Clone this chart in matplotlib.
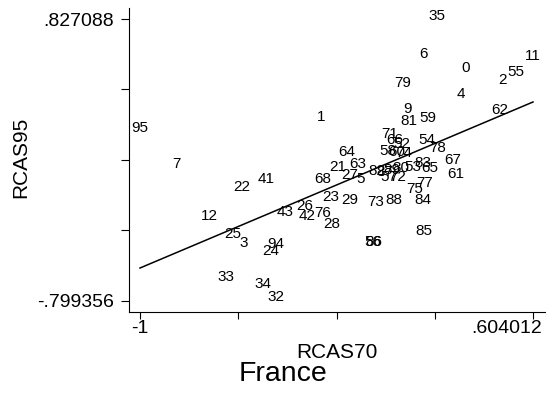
import matplotlib
matplotlib.use("Agg")
import matplotlib.pyplot as plt
import numpy as np
from matplotlib.transforms import ScaledTranslation

plt.rcParams['font.family'] = ['Liberation Sans', 'DejaVu Sans']

# ---- data ----
labels = ["35", "6", "0", "11", "55", "2", "79", "4", "9", "81", "59", "62", "1", "95", "7",
          "64", "21", "63", "68", "27", "5", "22", "41", "23", "29", "73", "88", "84", "75", "77",
          "85", "67", "61", "54", "78", "83", "65", "71", "66", "52", "58", "74", "60", "53",
          "82", "87", "89", "80", "72", "57", "12", "43", "26", "42", "76", "28", "25", "3",
          "94", "24", "86", "56", "33", "34", "32"]
rcas70 = [0.2122, 0.1591, 0.3306, 0.6040, 0.5346, 0.4775, 0.0734, 0.3102, 0.0938, 0.0979,
          0.1755, 0.4693, -0.2612, -1.0000, -0.8531,
          -0.1551, -0.1919, -0.1102, -0.2531, -0.1429, -0.0980, -0.5837, -0.4857, -0.2204,
          -0.1429, -0.0368, 0.0367, 0.1551, 0.1224, 0.1632,
          0.1591, 0.2775, 0.2898, 0.1714, 0.2163, 0.1551, 0.1836, 0.0204, 0.0408, 0.0694,
          0.0122, 0.0775, 0.0489, 0.1142,
          -0.0327, 0.0000, 0.0285, 0.0653, 0.0530, 0.0163, -0.7184, -0.4082, -0.3266, -0.3184,
          -0.2531, -0.2164, -0.6204, -0.5755,
          -0.4449, -0.4653, -0.0449, -0.0490, -0.6490, -0.4980, -0.4449]
rcas95 = [0.8271, 0.6077, 0.5269, 0.6019, 0.5038, 0.4576, 0.4403, 0.3825, 0.2959, 0.2209,
          0.2382, 0.2901, 0.2497, 0.1862, -0.0274,
          0.0419, -0.0390, -0.0274, -0.1083, -0.0909, -0.1140, -0.1602, -0.1083, -0.2122,
          -0.2295, -0.2468, -0.2295, -0.2295, -0.1660, -0.1371,
          -0.4142, -0.0043, -0.0851, 0.1169, 0.0707, -0.0159, -0.0505, 0.1458, 0.1169, 0.0938,
          0.0534, 0.0361, 0.0419, -0.0447,
          -0.0621, -0.0736, -0.0563, -0.0505, -0.0967, -0.0967, -0.3276, -0.2988, -0.2699, -0.3219,
          -0.3103, -0.3681, -0.4258, -0.4778,
          -0.4893, -0.5240, -0.4720, -0.4720, -0.6741, -0.7145, -0.7953]

# fitted line
fit_slope = 0.5976
fit_intercept = -0.0130

x_min, x_max = -1.0, 0.604012
y_min, y_max = -0.799356, 0.827088
x_ticklabels = ["-1", "", "", "", ".604012"]
y_ticklabels = ["-.799356", "", "", "", ".827088"]

# ---- figure ----
W, H = 546, 394
fig = plt.figure(figsize=(W / 100, H / 100), dpi=100)
ax = fig.add_axes([129 / W, 1 - 312 / H, (545 - 129) / W, (312 - 8) / H])

sx = (x_max - x_min) / 393.0
sy = (y_max - y_min) / 281.7
ax.set_xlim(x_min - 11 * sx, x_max + 12 * sx)
ax.set_ylim(y_min - 11.3 * sy, y_max + 11 * sy)

for lab, xv, yv in zip(labels, rcas70, rcas95):
    ax.annotate(lab, (xv, yv), xytext=(0, -1.5), textcoords='offset pixels',
                ha='center', va='baseline', fontsize=11, color='black')

xs = np.array([min(rcas70), max(rcas70)])
ax.plot(xs, fit_intercept + fit_slope * xs, color='black', lw=1.1)

for s in ['top', 'right']:
    ax.spines[s].set_visible(False)
for s in ['left', 'bottom']:
    ax.spines[s].set_linewidth(0.8)

ax.set_xticks(np.linspace(x_min, x_max, 5))
ax.set_xticklabels(x_ticklabels, fontsize=14)
ax.set_yticks(np.linspace(y_min, y_max, 5))
ax.set_yticklabels(y_ticklabels, fontsize=14)
ax.tick_params(axis='x', length=5, width=0.8, pad=1)
ax.tick_params(axis='y', length=6, width=0.8, pad=5)

xl = ax.get_xticklabels()
xl[-1].set_ha('right')
xl[-1].set_transform(xl[-1].get_transform() + ScaledTranslation(9 / 100, 0, fig.dpi_scale_trans))

fig.text(21 / W, 1 - 157 / H, "RCAS95", rotation=90, ha='center', va='center', fontsize=15)
fig.text(337 / W, 1 - 352 / H, "RCAS70", ha='center', va='center', fontsize=15)
fig.text(283 / W, 1 - 374 / H, "France", ha='center', va='center', fontsize=20.5)

fig.savefig("out.png", dpi=100)
